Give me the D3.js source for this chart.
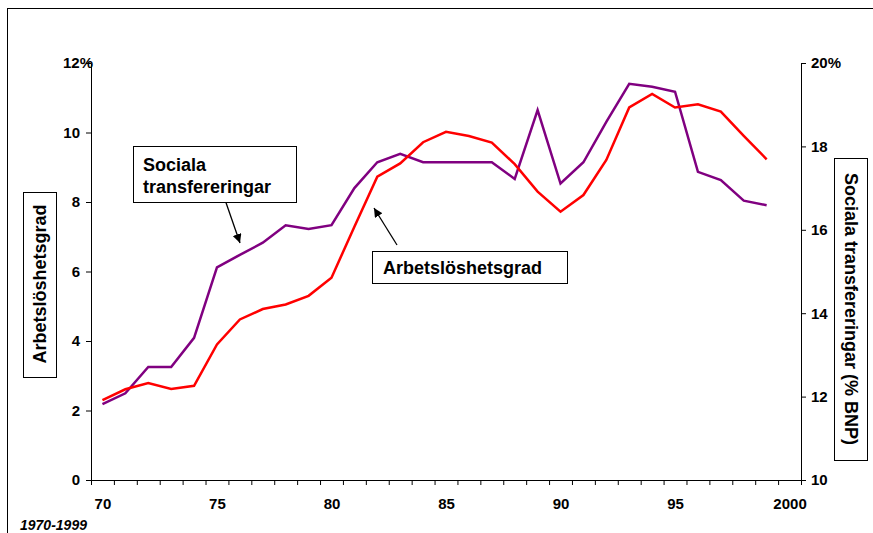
<!DOCTYPE html>
<html>
<head>
<meta charset="utf-8">
<script src="https://cdn.jsdelivr.net/npm/d3@7"></script>
<style>
  html, body { margin: 0; padding: 0; background: #fff; }
  svg { display: block; font-family: "Liberation Sans", Arial, sans-serif; }
  .axis text { font-weight: bold; font-size: 15px; fill: #000; }
  .axis path, .axis line { stroke: #000; stroke-width: 1; }
</style>
</head>
<body>
<svg id="chart" width="873" height="533"></svg>
<script>
// Years 1970–1999
const years = d3.range(1970, 2000);
// Unemployment rate, % (left axis)
const arbetsloshet = [2.30, 2.61, 2.79, 2.62, 2.71, 3.90, 4.62, 4.92, 5.05, 5.30,
                      5.82, 7.29, 8.73, 9.11, 9.72, 10.02, 9.90, 9.71, 9.09, 8.30,
                      7.72, 8.20, 9.21, 10.72, 11.11, 10.72, 10.81, 10.60, 9.90, 9.23];
// Social transfers, % of GDP (right axis)
const transfereringar = [11.82, 12.08, 12.71, 12.71, 13.41, 15.10, 15.40, 15.69, 16.11, 16.02,
                         16.11, 17.00, 17.62, 17.82, 17.62, 17.62, 17.62, 17.62, 17.22, 18.87,
                         17.11, 17.62, 18.59, 19.50, 19.43, 19.31, 17.39, 17.19, 16.70, 16.59];
const xTickLabels = ["70", "75", "80", "85", "90", "95", "2000"];
const leftTicks = [0, 2, 4, 6, 8, 10, 12];
const rightTicks = [10, 12, 14, 16, 18, 20];

const svg = d3.select("#chart");
const plotLeft = 91, plotRight = 801, plotTop = 63, plotBottom = 480;

// Category axis: one slot per year, 1970–2000
const x = d3.scaleLinear().domain([1970, 2001]).range([plotLeft, plotRight]);
const yL = d3.scaleLinear().domain([0, 12]).range([plotBottom, plotTop]);
const yR = d3.scaleLinear().domain([10, 20]).range([plotBottom, plotTop]);

// Outer frame
svg.append("rect").attr("x", 7.5).attr("y", 8.5).attr("width", 880).attr("height", 540)
  .attr("fill", "none").attr("stroke", "#000").attr("stroke-width", 1);

// X axis: ticks at slot boundaries, labels at slot centres
svg.append("g").attr("class", "axis").attr("transform", `translate(0,${plotBottom})`)
  .call(d3.axisBottom(x).tickValues(d3.range(1970, 2002)).tickFormat("").tickSize(5).tickSizeOuter(0));
svg.append("g").attr("class", "axis").attr("transform", `translate(0,${plotBottom})`)
  .call(d3.axisBottom(x).tickValues(xTickLabels.map((d, i) => 1970.5 + i * 5))
    .tickFormat((d, i) => xTickLabels[i]).tickSize(0).tickPadding(18))
  .call(g => g.select(".domain").remove());

// Left axis
const gL = svg.append("g").attr("class", "axis").attr("transform", `translate(${plotLeft},0)`)
  .call(d3.axisLeft(yL).tickValues(leftTicks).tickSize(5).tickSizeOuter(0).tickPadding(6));
gL.selectAll(".tick text").filter(d => d === 12)
  .text("12%").attr("text-anchor", "start").attr("x", -28);

// Right axis
const gR = svg.append("g").attr("class", "axis").attr("transform", `translate(${plotRight},0)`)
  .call(d3.axisRight(yR).tickValues(rightTicks).tickSize(5).tickSizeOuter(0).tickPadding(5));
gR.selectAll(".tick text").filter(d => d === 20).text("20%");

// Series lines
const lineL = d3.line().x((d, i) => x(years[i] + 0.5)).y(d => yL(d));
const lineR = d3.line().x((d, i) => x(years[i] + 0.5)).y(d => yR(d));
svg.append("path").datum(transfereringar).attr("d", lineR)
  .attr("fill", "none").attr("stroke", "#800080").attr("stroke-width", 2.5);
svg.append("path").datum(arbetsloshet).attr("d", lineL)
  .attr("fill", "none").attr("stroke", "#FF0000").attr("stroke-width", 2.5);

// Arrowhead marker
svg.append("defs").append("marker").attr("id", "arrow")
  .attr("viewBox", "0 0 10 10").attr("refX", 10).attr("refY", 5)
  .attr("markerWidth", 9).attr("markerHeight", 9).attr("markerUnits", "userSpaceOnUse")
  .attr("orient", "auto")
  .append("path").attr("d", "M0,0 L10,5 L0,10 z").attr("fill", "#000");

// Callout boxes
function box(x0, y0, w, h) {
  svg.append("rect").attr("x", x0 + 0.5).attr("y", y0 + 0.5).attr("width", w).attr("height", h)
    .attr("fill", "#fff").attr("stroke", "#000").attr("stroke-width", 1);
}
function label(t, x0, y0, rot) {
  const el = svg.append("text").attr("x", x0).attr("y", y0).text(t)
    .attr("font-weight", "bold").attr("font-size", "18px").attr("fill", "#000");
  if (rot !== undefined) {
    el.attr("text-anchor", "middle").attr("dominant-baseline", "central")
      .attr("transform", `rotate(${rot},${x0},${y0})`);
  }
  return el;
}

// "Sociala transfereringar" callout
svg.append("line").attr("x1", 223).attr("y1", 194).attr("x2", 240).attr("y2", 243)
  .attr("stroke", "#000").attr("stroke-width", 1.3).attr("marker-end", "url(#arrow)");
box(133, 146, 163, 56);
label("Sociala", 143, 171);
label("transfereringar", 143, 193);

// "Arbetslöshetsgrad" callout
svg.append("line").attr("x1", 397).attr("y1", 245).attr("x2", 374).attr("y2", 208)
  .attr("stroke", "#000").attr("stroke-width", 1.3).attr("marker-end", "url(#arrow)");
box(372, 251, 195, 32);
label("Arbetslöshetsgrad", 383, 274);

// Axis titles
box(23, 192, 33, 185);
label("Arbetslöshetsgrad", 40, 284, -90);
box(834, 158, 33, 302);
label("Sociala transfereringar (% BNP)", 851, 309, 90);

// Period note
svg.append("text").attr("x", 20).attr("y", 530).text("1970-1999")
  .attr("font-weight", "bold").attr("font-style", "italic").attr("font-size", "14px");
</script>
</body>
</html>
